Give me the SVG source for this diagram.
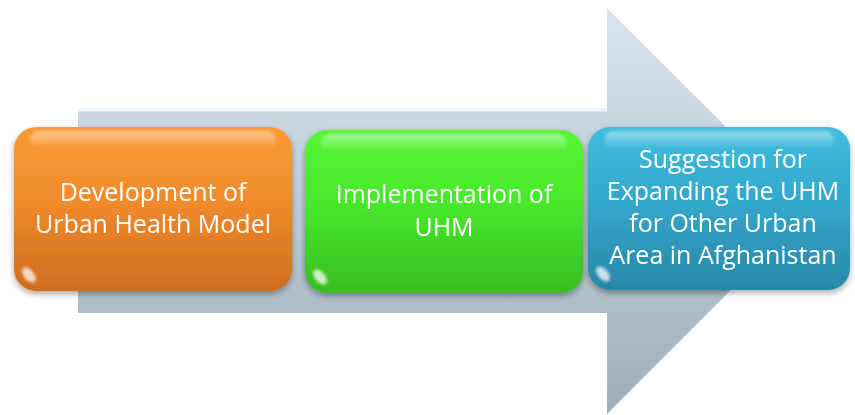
<svg xmlns="http://www.w3.org/2000/svg" width="855" height="415" viewBox="0 0 855 415">
  <defs>
    <linearGradient id="arrowFill" x1="0" y1="0" x2="0" y2="1">
      <stop offset="0" stop-color="#d8e5ed"/>
      <stop offset="0.5" stop-color="#bccbd5"/>
      <stop offset="1" stop-color="#9eaeb9"/>
    </linearGradient>
    <linearGradient id="orangeFill" x1="0" y1="0" x2="0" y2="1">
      <stop offset="0" stop-color="#fa9a35"/>
      <stop offset="0.45" stop-color="#f18b2c"/>
      <stop offset="1" stop-color="#d06c1e"/>
    </linearGradient>
    <linearGradient id="greenFill" x1="0" y1="0" x2="0" y2="1">
      <stop offset="0" stop-color="#55f535"/>
      <stop offset="0.45" stop-color="#48e82c"/>
      <stop offset="1" stop-color="#38bd22"/>
    </linearGradient>
    <linearGradient id="blueFill" x1="0" y1="0" x2="0" y2="1">
      <stop offset="0" stop-color="#3fbde0"/>
      <stop offset="0.45" stop-color="#33a8cc"/>
      <stop offset="1" stop-color="#2887a6"/>
    </linearGradient>
    <linearGradient id="gloss" x1="0" y1="0" x2="0" y2="1">
      <stop offset="0" stop-color="#ffffff" stop-opacity="0.45"/>
      <stop offset="1" stop-color="#ffffff" stop-opacity="0"/>
    </linearGradient>
    <filter id="shadow" x="-10%" y="-10%" width="120%" height="130%">
      <feGaussianBlur in="SourceAlpha" stdDeviation="3"/>
      <feOffset dx="0" dy="3" result="b"/>
      <feComponentTransfer><feFuncA type="linear" slope="0.35"/></feComponentTransfer>
      <feMerge><feMergeNode/><feMergeNode in="SourceGraphic"/></feMerge>
    </filter>
    <filter id="soft" x="-20%" y="-50%" width="140%" height="200%">
      <feGaussianBlur stdDeviation="1.5"/>
    </filter>
  </defs>
  <style>
    .label { font-family: "Open Sans", "Liberation Sans", Arial, sans-serif; font-size: 25px; fill: #ffffff; text-anchor: middle; }
    .shine { fill: url(#gloss); }
    .spot { fill: #ffffff; opacity: 0.75; }
  </style>

  <!-- background flow arrow -->
  <g id="flow-arrow">
    <path d="M78,109 H607 V8 L810,211 L607,414 V313 H78 Z" fill="url(#arrowFill)"/>
    <path d="M78,110 H607" stroke="#eef4f8" stroke-width="3"/>
  </g>

  <!-- step 1 -->
  <g id="step-development" filter="url(#shadow)">
    <rect x="14" y="127" width="278" height="164" rx="22" fill="url(#orangeFill)"/>
    <rect x="30" y="131" width="246" height="18" rx="9" class="shine" filter="url(#soft)"/>
    <ellipse cx="29" cy="275" rx="5" ry="9" transform="rotate(-40 29 275)" class="spot" filter="url(#soft)"/>
    <text class="label" x="153" y="201">Development of</text>
    <text class="label" x="153" y="233">Urban Health Model</text>
  </g>

  <!-- step 2 -->
  <g id="step-implementation" filter="url(#shadow)">
    <rect x="305" y="130" width="278" height="163" rx="22" fill="url(#greenFill)"/>
    <rect x="321" y="134" width="246" height="18" rx="9" class="shine" filter="url(#soft)"/>
    <ellipse cx="320" cy="277" rx="5" ry="9" transform="rotate(-40 320 277)" class="spot" filter="url(#soft)"/>
    <text class="label" x="444" y="203">Implementation of</text>
    <text class="label" x="444" y="236">UHM</text>
  </g>

  <!-- step 3 -->
  <g id="step-expansion" filter="url(#shadow)">
    <rect x="588" y="127" width="262" height="163" rx="22" fill="url(#blueFill)"/>
    <rect x="604" y="131" width="230" height="18" rx="9" class="shine" filter="url(#soft)"/>
    <ellipse cx="603" cy="274" rx="5" ry="9" transform="rotate(-40 603 274)" class="spot" filter="url(#soft)"/>
    <text class="label" x="723" y="168">Suggestion for</text>
    <text class="label" x="723" y="200">Expanding the UHM</text>
    <text class="label" x="723" y="232">for Other Urban</text>
    <text class="label" x="723" y="264">Area in Afghanistan</text>
  </g>
</svg>
